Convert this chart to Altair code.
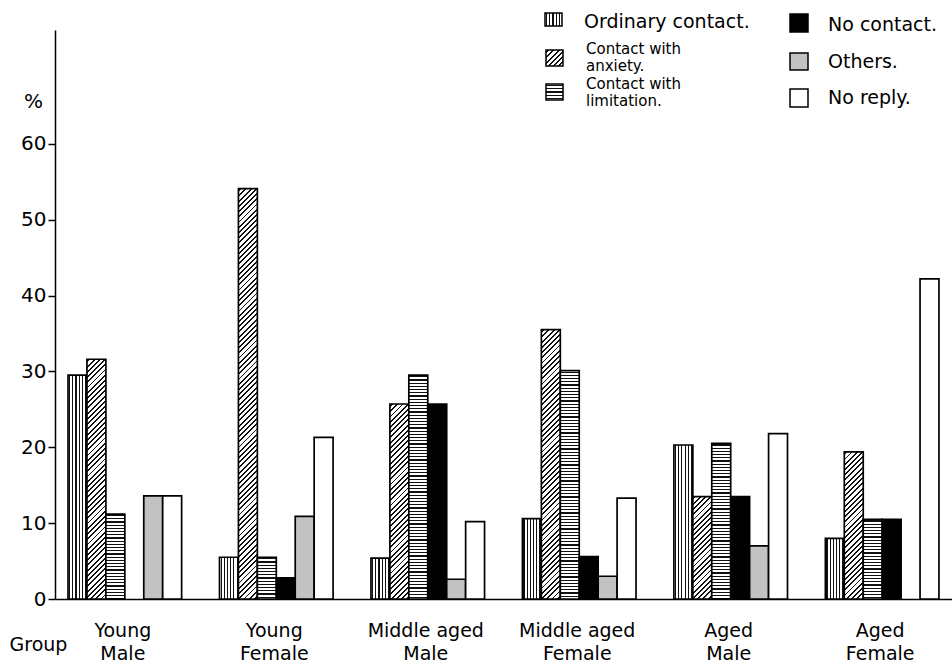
import altair as alt

FONT = "DejaVu Sans"

# ---------------- data ----------------
groups = ["Young Male", "Young Female", "Middle aged Male",
          "Middle aged Female", "Aged Male", "Aged Female"]
categories = ["Ordinary contact.", "Contact with anxiety.", "Contact with limitation.",
              "No contact.", "Others.", "No reply."]

ordinary   = [29.5, 5.5, 5.4, 10.6, 20.3, 8.0]
anxiety    = [31.6, 54.1, 25.7, 35.5, 13.5, 19.4]
limitation = [11.2, 5.5, 29.5, 30.1, 20.5, 10.5]
no_contact = [None, 2.8, 25.7, 5.6, 13.5, 10.5]
others     = [13.6, 10.9, 2.6, 3.0, 7.0, None]
no_reply   = [13.6, 21.3, 10.2, 13.3, 21.8, 42.2]

y_ticks = [0, 10, 20, 30, 40, 50, 60]

# ---------------- layout / style ----------------
W, H = 897, 569
YMAX = 75
PX = H / YMAX
PAD_IN, PAD_OUT = 0.25, 0.086
STEP = W / (len(groups) - PAD_IN + 2 * PAD_OUT)
BAR_W = STEP * (1 - PAD_IN) / len(categories)
INK, PAPER = "#111111", "white"


def stripe_stops(n_periods, t_limit=1.0, dark=0.36):
    stops = [{"offset": 0, "color": PAPER}]
    k = 0
    lim = min(t_limit, 1.0)
    while True:
        a = (k + 0.5 - dark / 2) / n_periods
        b = min((k + 0.5 + dark / 2) / n_periods, 1.0)
        if a >= lim:
            break
        a, b = round(a, 6), round(b, 6)
        stops += [{"offset": a, "color": PAPER}, {"offset": a, "color": INK},
                  {"offset": b, "color": INK}, {"offset": b, "color": PAPER}]
        k += 1
    stops.append({"offset": 1, "color": PAPER})
    return stops


def vertical(w, p=3.2):
    return {"gradient": "linear", "x1": 0, "y1": 0, "x2": 1, "y2": 0,
            "stops": stripe_stops(w / p)}


def horizontal(h, p=3.2):
    return {"gradient": "linear", "x1": 0.5, "y1": 0, "x2": 0.5, "y2": 1,
            "stops": stripe_stops(max(h, 1) / p)}


def diagonal(w, h, p=3.7):
    r = max(h, 1) / w
    n = w * (1 + r * r) / (p * 2 ** 0.5)
    tmax = (w + h) / (w * (1 + r * r))
    return {"gradient": "linear", "x1": 0, "y1": 0, "x2": 1, "y2": round(r, 6),
            "stops": stripe_stops(n, tmax + 0.5 / n)}


def fill_for(cat, w, h):
    if cat == categories[0]:
        return vertical(w)
    if cat == categories[1]:
        return diagonal(w, h)
    if cat == categories[2]:
        return horizontal(h)
    if cat == categories[3]:
        return "black"
    if cat == categories[4]:
        return "#c2c2c2"
    return "white"


series = [ordinary, anxiety, limitation, no_contact, others, no_reply]
rows = []
for gi, g in enumerate(groups):
    for cat, vals in zip(categories, series):
        v = vals[gi]
        if v is None:
            continue
        rows.append({"group": g, "cat": cat, "value": v,
                     "pat": fill_for(cat, BAR_W, v * PX)})

label_expr = ("[slice(datum.label, 0, lastindexof(datum.label, ' ')), "
              "slice(datum.label, lastindexof(datum.label, ' ') + 1)]")

bars = alt.Chart(alt.Data(values=rows)).mark_bar(
    stroke="black", strokeWidth=1.7
).encode(
    x=alt.X("group:N", sort=groups,
            scale=alt.Scale(domain=groups, paddingInner=PAD_IN, paddingOuter=PAD_OUT),
            axis=alt.Axis(title="Group", titleX=-17, titleY=45, titleAlign="center",
                          titleBaseline="middle", titleAngle=0, titleFontSize=19,
                          titleFont=FONT, titleFontWeight="normal", titleColor="black",
                          labelExpr=label_expr, labelAngle=0, labelFontSize=19,
                          labelFont=FONT, labelColor="black", labelLineHeight=23,
                          labelBaseline="top", labelPadding=22, labelOffset=-2,
                          ticks=False, tickSize=0, domainColor="black", domainWidth=1.5)),
    xOffset=alt.XOffset("cat:N", sort=categories,
                        scale=alt.Scale(domain=categories, paddingInner=0, paddingOuter=0)),
    y=alt.Y("value:Q", scale=alt.Scale(domain=[0, YMAX], nice=False, zero=True),
            axis=alt.Axis(values=y_ticks, title="%", titleAngle=0, titleX=-22, titleY=71,
                          titleAlign="center", titleBaseline="middle", titleFontSize=20,
                          titleFont=FONT, titleFontWeight="normal", titleColor="black",
                          labelFontSize=20, labelFont=FONT, labelColor="black",
                          labelPadding=2, tickSize=7, tickWidth=1.5, tickColor="black",
                          domainColor="black", domainWidth=1.5, grid=False)),
    fill=alt.Fill("pat:N", scale=None),
)

# ---------------- custom legend ----------------
OX, OY = 55, 30  # plot origin in page pixels
legend_swatches = [
    # swatch box in page px, category
    (545, 13, 562, 26, categories[0]),
    (546, 50, 563, 66, categories[1]),
    (546, 84, 563, 100, categories[2]),
    (790, 14, 808, 32, categories[3]),
    (790, 53, 808, 70, categories[4]),
    (790, 89, 808, 107, categories[5]),
]
legend_texts = [
    # text x, baseline y, text, font size
    (584, 28, "Ordinary contact.", 19),
    (586, 54, "Contact with", 15),
    (586, 71, "anxiety.", 15),
    (586, 89, "Contact with", 15),
    (586, 106, "limitation.", 15),
    (828, 31, "No contact.", 19),
    (828, 68, "Others.", 19),
    (828, 104, "No reply.", 19),
]

legend_layers = []
for x0, y0, x1, y1, cat in legend_swatches:
    legend_layers.append(alt.Chart(alt.Data(values=[{}])).mark_rect(
        fill=fill_for(cat, x1 - x0, y1 - y0), stroke="black", strokeWidth=1.5
    ).encode(x=alt.value(x0 - OX), x2=alt.value(x1 - OX),
             y=alt.value(y0 - OY), y2=alt.value(y1 - OY)))
for tx, ty, text, fs in legend_texts:
    legend_layers.append(alt.Chart(alt.Data(values=[{}])).mark_text(
        align="left", baseline="alphabetic", font=FONT, fontSize=fs, color="black"
    ).encode(x=alt.value(tx - OX), y=alt.value(ty - OY), text=alt.value(text)))

chart = alt.layer(bars, *legend_layers).properties(
    width=W, height=H,
    padding={"left": OX, "top": OY, "right": 0, "bottom": 66},
    autosize=alt.AutoSizeParams(type="none"),
    background="white",
).configure_view(stroke=None)

chart.save("out.html", embed_options={"renderer": "svg", "actions": False})
